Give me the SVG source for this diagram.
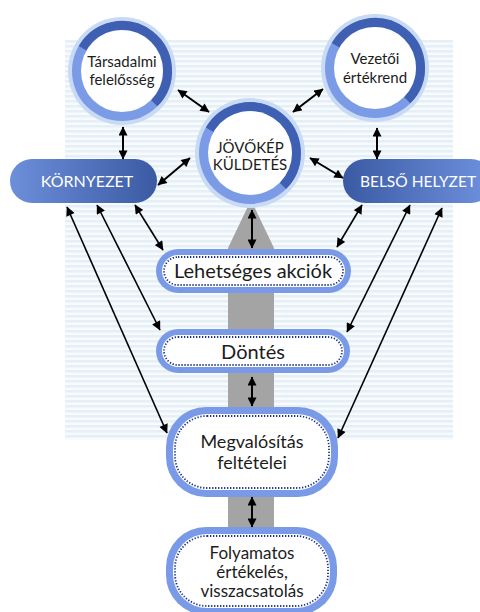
<svg xmlns="http://www.w3.org/2000/svg" width="480" height="612" viewBox="0 0 480 612">
<style>
text{font-family:Lato,"Liberation Sans",sans-serif;text-anchor:middle}
.dark{fill:#1c1c1c}
.white{fill:#ffffff}
.glow{fill:#c9daf4}
.ringL{fill:#7b9be6}
.ringD{fill:none;stroke:#3f5fb3;stroke-width:9}
.inner{fill:#ffffff}
.pillO{fill:#7a9ae7}
.pillI{fill:#ffffff}
.dots{fill:none;stroke:#1f3488;stroke-width:1.8;stroke-dasharray:1.3 1.7}
.c{stroke:#000;fill:none;marker-start:url(#ah);marker-end:url(#ah)}
.s{stroke-width:2}
.l{stroke-width:1.6}
</style>
<defs>
<pattern id="stripes" width="8" height="5" patternUnits="userSpaceOnUse">
<rect width="8" height="5" fill="#f7fbfd"/>
<rect width="8" height="2.5" fill="#e5eff5"/>
</pattern>
<linearGradient id="gL" x1="0" y1="0" x2="1" y2="0">
<stop offset="0" stop-color="#6d8ed9"/>
<stop offset="1" stop-color="#3b5aa4"/>
</linearGradient>
<linearGradient id="gR" x1="0" y1="0" x2="1" y2="0">
<stop offset="0" stop-color="#3b5aa4"/>
<stop offset="1" stop-color="#6f92de"/>
</linearGradient>
<marker id="ah" viewBox="0 0 10 10" refX="9.5" refY="5" markerWidth="10" markerHeight="9" orient="auto-start-reverse" markerUnits="userSpaceOnUse">
<path d="M0,0 L10,5 L0,10 z" fill="#000"/>
</marker>
</defs>

<rect x="65" y="40" width="388" height="400" fill="url(#stripes)"/>
<polygon points="251,200 274,248 274,530 228,530 228,248" fill="#a4a4a4"/>

<g id="tarsadalmi" transform="translate(122,71)">
<circle r="54" class="glow"/>
<circle r="50" class="ringL"/>
<path d="M-39.4,-22.75 A45.5,45.5 0 1 1 32.17,32.17" class="ringD"/>
<circle r="41" class="inner"/>
<text y="-4" class="dark" font-size="15">Társadalmi</text>
<text y="14" class="dark" font-size="15">felelősség</text>
</g>

<g id="vezetoi" transform="translate(375,68)">
<circle r="54" class="glow"/>
<circle r="50" class="ringL"/>
<path d="M-39.4,-22.75 A45.5,45.5 0 1 1 32.17,32.17" class="ringD"/>
<circle r="41" class="inner"/>
<text y="-4" class="dark" font-size="15">Vezetői</text>
<text y="15" class="dark" font-size="15">értékrend</text>
</g>

<g id="jovokep" transform="translate(250,153)">
<circle r="55" class="glow"/>
<circle r="51" class="ringL"/>
<path d="M-40.3,-23.25 A46.5,46.5 0 1 1 32.9,32.9" class="ringD"/>
<circle r="42" class="inner"/>
<text y="0" class="dark" font-size="15">JÖVŐKÉP</text>
<text y="17" class="dark" font-size="15">KÜLDETÉS</text>
</g>

<g id="kornyezet">
<rect x="10" y="159" width="147" height="44" rx="22" fill="url(#gL)"/>
<text x="87" y="187" class="white" font-size="16">KÖRNYEZET</text>
</g>

<g id="belso">
<rect x="343" y="159" width="150" height="44" rx="22" fill="url(#gR)"/>
<text x="418" y="187" class="white" font-size="15.5">BELSŐ HELYZET</text>
</g>

<g id="lehetseges">
<rect x="156" y="249" width="195" height="44" rx="22" class="pillO"/>
<rect x="162" y="255" width="183" height="32" rx="16" class="pillI"/>
<rect x="164" y="257" width="179" height="28" rx="14" class="dots"/>
<text x="253" y="278" class="dark" font-size="20">Lehetséges akciók</text>
</g>

<g id="dontes">
<rect x="156" y="329" width="194" height="44" rx="22" class="pillO"/>
<rect x="162" y="335" width="182" height="32" rx="16" class="pillI"/>
<rect x="164" y="337" width="178" height="28" rx="14" class="dots"/>
<text x="253" y="359" class="dark" font-size="20">Döntés</text>
</g>

<g id="megvalositas">
<rect x="166" y="407" width="172" height="90" rx="40" class="pillO"/>
<rect x="173" y="414" width="158" height="76" rx="34" class="pillI"/>
<rect x="175" y="416" width="154" height="72" rx="32" class="dots"/>
<text x="252" y="448" class="dark" font-size="18">Megvalósítás</text>
<text x="252" y="469" class="dark" font-size="18">feltételei</text>
</g>

<g id="folyamatos">
<rect x="166" y="527" width="171" height="88" rx="40" class="pillO"/>
<rect x="173" y="534" width="157" height="74" rx="34" class="pillI"/>
<rect x="175" y="536" width="153" height="70" rx="32" class="dots"/>
<text x="252" y="559" class="dark" font-size="17">Folyamatos</text>
<text x="252" y="578" class="dark" font-size="17">értékelés,</text>
<text x="252" y="597" class="dark" font-size="17">visszacsatolás</text>
</g>

<g id="connectors">
<line class="c s" x1="178" y1="90" x2="209" y2="112"/>
<line class="c s" x1="293" y1="112" x2="323" y2="89"/>
<line class="c s" x1="123" y1="127" x2="123" y2="159"/>
<line class="c s" x1="377" y1="128" x2="377" y2="159"/>
<line class="c s" x1="158" y1="185" x2="190" y2="158"/>
<line class="c s" x1="310" y1="158" x2="343" y2="178"/>
<line class="c l" x1="135" y1="205" x2="163" y2="250"/>
<line class="c l" x1="97" y1="205" x2="160" y2="330"/>
<line class="c l" x1="67" y1="207" x2="167" y2="433"/>
<line class="c l" x1="362" y1="205" x2="337" y2="247"/>
<line class="c l" x1="410" y1="205" x2="347" y2="332"/>
<line class="c l" x1="442" y1="208" x2="338" y2="438"/>
<line class="c s" x1="252" y1="210" x2="252" y2="248"/>
<line class="c s" x1="252" y1="377" x2="252" y2="406"/>
<line class="c s" x1="252" y1="497" x2="252" y2="527"/>
</g>
</svg>
